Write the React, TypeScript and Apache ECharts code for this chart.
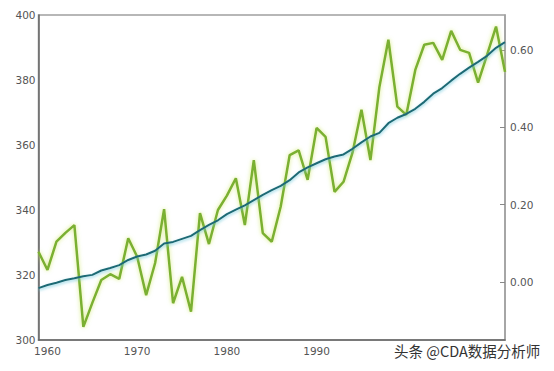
import React, { useEffect, useRef } from "react";
import * as echarts from "echarts";

const years: number[] = [
  1959, 1960, 1961, 1962, 1963, 1964, 1965, 1966, 1967, 1968, 1969,
  1970, 1971, 1972, 1973, 1974, 1975, 1976, 1977, 1978, 1979,
  1980, 1981, 1982, 1983, 1984, 1985, 1986, 1987, 1988, 1989,
  1990, 1991, 1992, 1993, 1994, 1995, 1996, 1997, 1998, 1999,
  2000, 2001, 2002, 2003, 2004, 2005, 2006, 2007, 2008, 2009,
  2010, 2011,
];

const co2: number[] = [
  315.97, 316.91, 317.64, 318.45, 318.99, 319.62, 320.04, 321.38, 322.16, 323.04, 324.62,
  325.68, 326.32, 327.45, 329.68, 330.18, 331.11, 332.04, 333.83, 335.4, 336.84,
  338.75, 340.11, 341.45, 343.05, 344.65, 346.12, 347.42, 349.19, 351.57, 353.12,
  354.39, 355.61, 356.45, 357.1, 358.83, 360.82, 362.61, 363.73, 366.7, 368.38,
  369.55, 371.14, 373.28, 375.8, 377.52, 379.8, 381.9, 383.79, 385.6, 387.43,
  389.9, 391.65,
];

const temp: number[] = [
  0.078, 0.031, 0.104, 0.127, 0.147, -0.116, -0.054, 0.005, 0.02, 0.008, 0.113,
  0.065, -0.034, 0.049, 0.188, -0.055, 0.013, -0.077, 0.178, 0.098, 0.186,
  0.223, 0.268, 0.147, 0.315, 0.126, 0.104, 0.195, 0.328, 0.34, 0.264,
  0.398, 0.375, 0.233, 0.259, 0.334, 0.445, 0.315, 0.504, 0.626, 0.453,
  0.432, 0.548, 0.613, 0.618, 0.574, 0.649, 0.6, 0.592, 0.515, 0.587,
  0.66, 0.543,
];

const xLabels: number[] = [1960, 1970, 1980, 1990];
const rightLabels: number[] = [0, 0.2, 0.4, 0.6];
const watermark = "头条 @CDA数据分析师";

export default function App() {
  const ref = useRef<HTMLDivElement>(null);
  useEffect(() => {
    if (!ref.current) return;
    const chart = echarts.init(ref.current, null, { renderer: "svg" });
    const font = "DejaVu Sans";
    chart.setOption({
      animation: false,
      backgroundColor: "#ffffff",
      grid: {
        left: 38.5,
        right: 49,
        top: 15,
        bottom: 31,
        show: true,
        borderColor: "#a0a0a0",
        borderWidth: 1.5,
        backgroundColor: "transparent",
      },
      xAxis: {
        type: "value",
        min: 1959,
        max: 2011,
        splitLine: { show: false },
        axisTick: { show: false },
        axisLine: { show: true, onZero: false, lineStyle: { color: "#666", width: 1.5 } },
        axisLabel: {
          customValues: xLabels,
          color: "#555",
          fontFamily: font,
          fontSize: 10.5,
          margin: 5,
          formatter: (v: number) => String(v),
        },
      },
      yAxis: [
        {
          type: "value",
          min: 300,
          max: 400,
          interval: 20,
          splitLine: { show: false },
          axisTick: { show: false },
          axisLine: { show: true, onZero: false, lineStyle: { color: "#666", width: 1.5 } },
          axisLabel: { color: "#555", fontFamily: font, fontSize: 10.5, margin: 3 },
        },
        {
          type: "value",
          position: "right",
          min: -0.15,
          max: 0.69,
          splitLine: { show: false },
          axisLine: { show: true, onZero: false, lineStyle: { color: "#a0a0a0", width: 1.5 } },
          axisTick: {
            show: true,
            inside: true,
            length: 5,
            customValues: rightLabels,
            lineStyle: { color: "#888" },
          },
          axisLabel: {
            customValues: rightLabels,
            color: "#555",
            fontFamily: font,
            fontSize: 10.5,
            margin: 5,
            formatter: (v: number) => v.toFixed(2),
          },
        },
      ],
      series: [
        {
          type: "line",
          yAxisIndex: 1,
          data: years.map((y, i) => [y, temp[i]]),
          showSymbol: false,
          lineStyle: {
            color: "#7ab030",
            width: 2.5,
            shadowColor: "rgba(205,230,100,0.8)",
            shadowBlur: 4,
          },
          z: 2,
        },
        {
          type: "line",
          yAxisIndex: 0,
          data: years.map((y, i) => [y, co2[i]]),
          showSymbol: false,
          lineStyle: {
            color: "#1e6a74",
            width: 2,
            shadowColor: "rgba(110,200,220,0.8)",
            shadowBlur: 3,
            shadowOffsetY: 1.5,
          },
          z: 3,
        },
      ],
      graphic: [
        {
          type: "text",
          left: 394,
          top: 343,
          style: {
            text: watermark,
            fill: "#333",
            font: '14.5px "Noto Sans CJK SC"',
          },
        },
      ],
    });
    return () => chart.dispose();
  }, []);
  return (
    <div
      ref={ref}
      style={{ position: "absolute", left: 0, top: 0, width: 554, height: 371 }}
    />
  );
}
